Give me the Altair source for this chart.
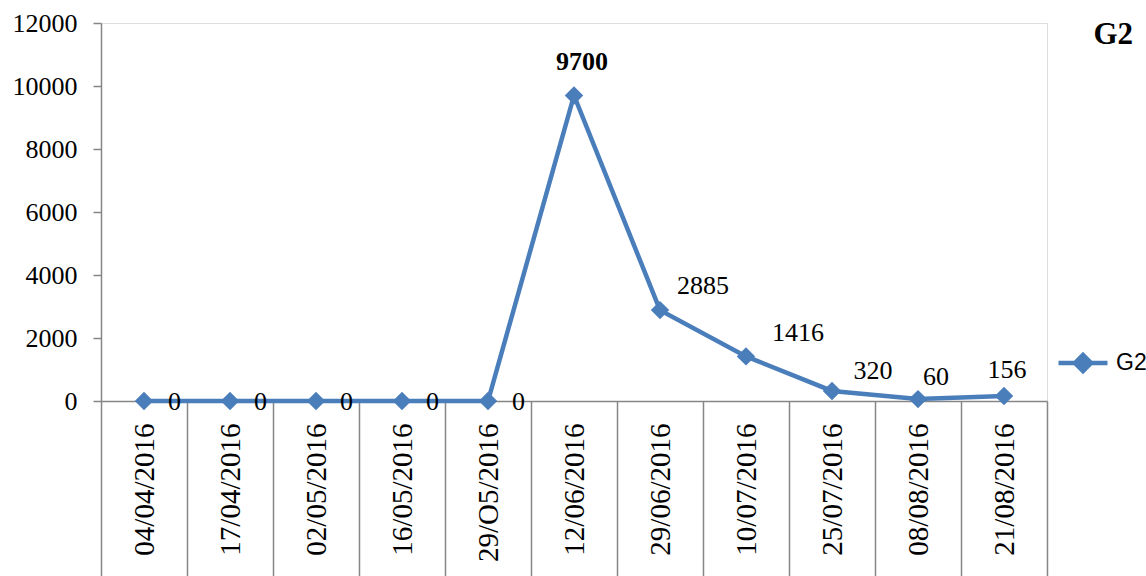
import altair as alt
import pandas as pd

# Sampling dates (category axis) and counts for series G2
dates = [
    "04/04/2016", "17/04/2016", "02/05/2016", "16/05/2016", "29/O5/2016",
    "12/06/2016", "29/06/2016", "10/07/2016", "25/07/2016", "08/08/2016",
    "21/08/2016",
]
counts = [0, 0, 0, 0, 0, 9700, 2885, 1416, 320, 60, 156]
series_name = "G2"
y_ticks = [0, 2000, 4000, 6000, 8000, 10000, 12000]

df = pd.DataFrame({"date": dates, "count": counts, "series": series_name})

BLUE = "#4A7EBB"
GREY = "#868686"
SERIF = "Liberation Serif"
SANS = "Liberation Sans"

W, H = 946, 378

x_enc = alt.X(
    "date:N",
    sort=dates,
    title=None,
    scale=alt.Scale(type="band", paddingInner=0, paddingOuter=0),
    axis=alt.Axis(
        labelAngle=-90,
        labelFont=SERIF,
        labelFontSize=29,
        labelColor="black",
        labelPadding=-153,
        labelOverlap=False,
        tickBand="extent",
        tickSize=175,
        tickColor=GREY,
        tickWidth=1.5,
        domainColor=GREY,
        domainWidth=1.5,
        grid=False,
    ),
)
y_enc = alt.Y(
    "count:Q",
    title=None,
    scale=alt.Scale(domain=[0, 12000], nice=False),
    axis=alt.Axis(
        values=y_ticks,
        format="d",
        labelFont=SERIF,
        labelFontSize=26,
        labelColor="black",
        labelPadding=16,
        tickSize=8,
        tickColor=GREY,
        tickWidth=1.5,
        domainColor=GREY,
        domainWidth=1.5,
        grid=False,
    ),
)

# legend glyph: a short line with a diamond in the middle
legend_path = "M-1,0H1M-0.33,0L0,-0.33L0.33,0L0,0.33Z"

line = alt.Chart(df).mark_line(
    strokeWidth=4.5,
    point=alt.OverlayMarkDef(shape="diamond", size=340, filled=True, color=BLUE),
).encode(
    x=x_enc,
    y=y_enc,
    color=alt.Color(
        "series:N",
        scale=alt.Scale(domain=[series_name], range=[BLUE]),
        legend=alt.Legend(
            title=None,
            orient="none",
            legendX=955,
            legendY=313,
            padding=0,
            symbolType=legend_path,
            symbolSize=2401,
            symbolStrokeWidth=4.5,
            symbolFillColor=BLUE,
            symbolStrokeColor=BLUE,
            labelFont=SANS,
            labelFontSize=23,
            labelColor="black",
            labelOffset=6,
        ),
    ),
)

base = alt.Chart(df).encode(x=x_enc, y=y_enc, text=alt.Text("count:Q", format="d"))

# zero values: labelled just right of the marker
layers = [
    line,
    base.transform_filter("datum.count == 0").mark_text(
        align="left", baseline="middle", dx=24, dy=1,
        font=SERIF, fontSize=26, color="black",
    ),
]

# non-zero values: individually nudged labels above the line
label_nudge = {
    "12/06/2016": (8, -33, "bold"),
    "29/06/2016": (43, -24, "normal"),
    "10/07/2016": (52, -23, "normal"),
    "25/07/2016": (41, -20, "normal"),
    "08/08/2016": (18, -22, "normal"),
    "21/08/2016": (3, -26, "normal"),
}
for d, (dx, dy, weight) in label_nudge.items():
    layers.append(
        base.transform_filter(alt.datum.date == d).mark_text(
            align="center", baseline="middle", dx=dx, dy=dy,
            font=SERIF, fontSize=26, fontWeight=weight, color="black",
        )
    )

chart = alt.layer(*layers).properties(
    width=W,
    height=H,
    title=alt.TitleParams(
        "G2",
        anchor="end",
        frame="group",
        dx=86,
        dy=65,
        offset=0,
        baseline="alphabetic",
        font=SERIF,
        fontSize=31,
        fontWeight="bold",
        color="black",
    ),
    autosize=alt.AutoSizeParams(type="none"),
    padding={"left": 101, "top": 23, "right": 99, "bottom": 175},
).configure_view(stroke=None).configure(background="white")

chart.save("out.html", embed_options={"renderer": "svg", "actions": False})
